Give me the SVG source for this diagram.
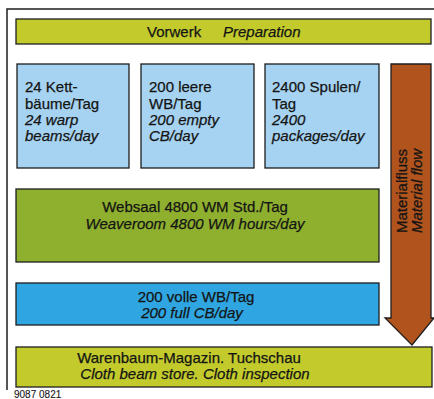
<svg xmlns="http://www.w3.org/2000/svg" width="434" height="399" viewBox="0 0 434 399">
<style>
text{font-family:"Liberation Sans",Arial,sans-serif;fill:#141414;font-size:15px;stroke:#141414;stroke-width:0.25}
.i{font-style:italic}
.m{text-anchor:middle}
.box{stroke:#1e1e1e;stroke-width:1.3}
.yg{fill:#c3cb2c}
.lb{fill:#a6d3f1}
.gr{fill:#8fb02f}
.bb{fill:#2fa6e1}
</style>
<rect width="434" height="399" fill="#ffffff"/>
<path d="M7,390 V9 H434" fill="none" stroke="#1e1e1e" stroke-width="1.5"/>
<g id="vorwerk">
<rect class="box yg" x="16" y="19" width="415" height="25"/>
<text x="147" y="37">Vorwerk</text>
<text class="i" x="223" y="37">Preparation</text>
</g>
<g id="kettbaeume">
<rect class="box lb" x="17" y="64" width="112" height="104"/>
<text x="25" y="92">24 Kett-</text>
<text x="25" y="109">bäume/Tag</text>
<text class="i" x="25" y="125">24 warp</text>
<text class="i" x="25" y="141">beams/day</text>
</g>
<g id="leere">
<rect class="box lb" x="141" y="64" width="113" height="104"/>
<text x="149" y="92">200 leere</text>
<text x="149" y="109">WB/Tag</text>
<text class="i" x="149" y="125">200 empty</text>
<text class="i" x="149" y="141">CB/day</text>
</g>
<g id="spulen">
<rect class="box lb" x="265" y="64" width="114" height="104"/>
<text x="272" y="92">2400 Spulen/</text>
<text x="272" y="109">Tag</text>
<text class="i" x="272" y="125">2400</text>
<text class="i" x="272" y="141">packages/day</text>
</g>
<g id="websaal">
<rect class="box gr" x="16" y="189" width="363" height="73"/>
<text class="m" x="195" y="212">Websaal 4800 WM Std./Tag</text>
<text class="i m" x="195" y="229">Weaveroom 4800 WM hours/day</text>
</g>
<g id="volle">
<rect class="box bb" x="16" y="283" width="363" height="42"/>
<text class="m" x="196" y="302">200 volle WB/Tag</text>
<text class="i m" x="192" y="318">200 full CB/day</text>
</g>
<g id="magazin">
<rect class="box yg" x="16" y="347" width="416" height="40"/>
<text class="m" x="189" y="363">Warenbaum-Magazin. Tuchschau</text>
<text class="i m" x="195" y="379">Cloth beam store. Cloth inspection</text>
</g>
<g id="connectors">
<g id="materialfluss">
<path d="M391,64 H431 V318 H434 L412,345 L385,318 H391 Z" fill="#b0531d" stroke="#1e1e1e" stroke-width="1.3"/>
<text class="m" transform="translate(407,191) rotate(-90)">Materialfluss</text>
<text class="i m" transform="translate(422,191) rotate(-90)">Material flow</text>
</g>
</g>
<text x="14" y="398" style="font-size:10px;stroke-width:0.1">9087 0821</text>
</svg>
